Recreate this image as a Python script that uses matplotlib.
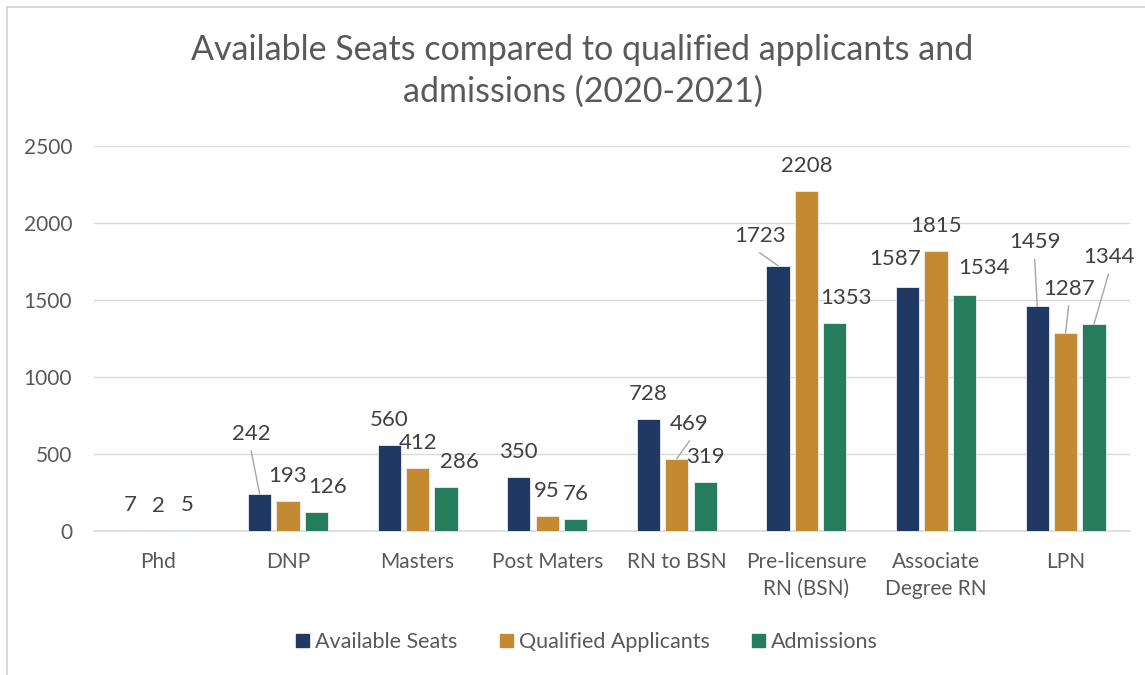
import matplotlib
matplotlib.use("Agg")
import matplotlib.pyplot as plt
from matplotlib.lines import Line2D
import numpy as np

# ---------------- data ----------------
categories = ["Phd", "DNP", "Masters", "Post Maters", "RN to BSN",
              "Pre-licensure\nRN (BSN)", "Associate\nDegree RN", "LPN"]
series_names = ["Available Seats", "Qualified Applicants", "Admissions"]
available_seats = [7, 242, 560, 350, 728, 1723, 1587, 1459]
qualified_applicants = [2, 193, 412, 95, 469, 2208, 1815, 1287]
admissions = [5, 126, 286, 76, 319, 1353, 1534, 1344]
yticks = [0, 500, 1000, 1500, 2000, 2500]
title = "Available Seats compared to qualified applicants and\nadmissions (2020-2021)"

# manual label nudges (pixels): (series, category) -> (dx, extra_dy, leader)
label_nudges = {
    (0, 1): (-8.5, 35, True),
    (2, 1): (11.5, 0, False),
    (2, 2): (13.5, 0, False),
    (1, 4): (12.7, 10, True),
    (0, 5): (-18.5, 5, True),
    (2, 5): (11, 0, False),
    (0, 6): (-13, 3, False),
    (2, 6): (20, 2, False),
    (0, 7): (-2.5, 39, True),
    (1, 7): (3, 19, True),
    (2, 7): (14.5, 42, True),
}

# ---------------- style ----------------
colors = ["#1F3864", "#C48A32", "#267D5E"]
FONT = "Lato"
plt.rcParams["font.family"] = [FONT, "DejaVu Sans"]

W, H = 1145, 675
DPI = 100
PX = 72.0 / DPI  # points per pixel

fig = plt.figure(figsize=(W / DPI, H / DPI), dpi=DPI)
fig.patch.set_facecolor("white")

ax_left, ax_right = 93.6, 1130.4
ax_top, ax_bottom = 146, 531
ax = fig.add_axes([ax_left / W, 1 - ax_bottom / H,
                   (ax_right - ax_left) / W, (ax_bottom - ax_top) / H])

x = np.arange(len(categories))
bar_w = 0.178
stride = 0.219
data = [available_seats, qualified_applicants, admissions]

for s, (vals, col, name) in enumerate(zip(data, colors, series_names)):
    xs = x + (s - 1) * stride
    ax.bar(xs, vals, width=bar_w, color=col, edgecolor="#EDEFF3",
           linewidth=0.6, label=name, zorder=3)
    for c, (xi, v) in enumerate(zip(xs, vals)):
        dx, extra, leader = label_nudges.get((s, c), (0, 0, False))
        oy = 25 + extra
        ax.annotate(str(v), xy=(xi, v), xytext=(dx * PX, oy * PX),
                    textcoords="offset points", ha="center", va="center",
                    fontsize=16, color="#404040", zorder=5)
        if leader:
            ax.annotate("", xy=(xi, v), xytext=(dx * PX, (oy - 17) * PX),
                        textcoords="offset points",
                        arrowprops=dict(arrowstyle="-", color="#A6A6A6",
                                        lw=1.0, shrinkA=0, shrinkB=0),
                        zorder=4)

ax.set_xlim(-0.5, len(categories) - 0.5)
ax.set_ylim(0, 2500)
ax.set_yticks(yticks)
ax.set_yticklabels([str(t) for t in yticks])
ax.set_xticks(x)
ax.set_xticklabels(categories, linespacing=1.45)
ax.tick_params(axis="y", length=0, pad=15.5, labelsize=15, labelcolor="#595959")
ax.tick_params(axis="x", length=0, pad=15, labelsize=15, labelcolor="#595959")
ax.grid(axis="y", color="#D9D9D9", lw=1.0, zorder=0)
for sp in ["left", "right", "top"]:
    ax.spines[sp].set_visible(False)
ax.spines["bottom"].set_color("#D9D9D9")
ax.spines["bottom"].set_linewidth(1.2)
ax.spines["bottom"].set_zorder(2)

fig.text(582.5 / W, 1 - 71 / H, title, ha="center", va="center",
         fontsize=24.5, color="#595959", linespacing=1.35)

handles = [plt.Rectangle((0, 0), 1, 1, color=c) for c in colors]
fig.legend(handles, series_names, loc="center",
           bbox_to_anchor=(587 / W, 1 - 642 / H), ncol=3, frameon=False,
           fontsize=15.5, labelcolor="#595959", handlelength=0.6,
           handleheight=0.6, handletextpad=0.3, columnspacing=1.95)

# chart-area border (top and left visible)
fig.add_artist(Line2D([7 / W, 1], [1 - 6.5 / H, 1 - 6.5 / H],
                      transform=fig.transFigure, color="#D9D9D9", lw=1.5))
fig.add_artist(Line2D([7 / W, 7 / W], [0, 1 - 6.5 / H],
                      transform=fig.transFigure, color="#D9D9D9", lw=1.5))

fig.savefig("out.png", dpi=DPI)
